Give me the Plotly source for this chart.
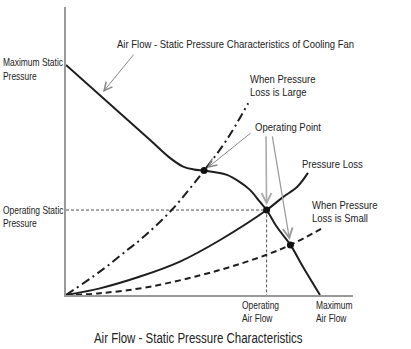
import plotly.graph_objects as go

# ---- data (arbitrary units: air flow 0-100, static pressure 0-100) ----
fan_flow = [0, 29.3, 36.2, 40.8, 44.5, 48.1, 52.0, 56.1, 60.6, 64.1, 67.6, 69.9, 73.5, 78.2, 82.6, 88.5]
fan_pressure = [79.9, 53.8, 47.6, 44.6, 43.6, 43.2, 42.6, 41.7, 39.2, 36.5, 32.3, 29.5, 23.6, 17.4, 9.7, 0]

loss_flow = [0, 11.8, 25.8, 39.7, 53.7, 69.9, 75.6, 80.5, 84.3]
loss_pressure = [0, 2.3, 6.4, 11.6, 19.1, 29.5, 34.0, 37.5, 42.4]

large_flow = [0, 11.8, 21.3, 25.8, 36.8, 48.1, 55.8, 63.5]
large_pressure = [0, 8.1, 15.6, 19.1, 29.5, 43.2, 53.6, 66.6]

small_flow = [0, 11.8, 29.3, 52.6, 69.7, 78.2, 89.5]
small_pressure = [0, 0.6, 2.9, 8.4, 13.9, 17.4, 23.3]

op_point = (69.9, 29.5)
large_point = (48.1, 43.2)
small_point = (78.2, 17.4)

FONT = "Liberation Sans, Arial, sans-serif"
DARK = "#1e1e1e"
W, H = 411, 349
ML, MR, MT, MB = 66, 58, 7, 54
PW, PH = W - ML - MR, H - MT - MB

fig = go.Figure()

# guide lines for operating point
fig.add_trace(go.Scatter(x=[0, op_point[0], op_point[0]], y=[op_point[1], op_point[1], 0],
                         mode="lines", line=dict(color="#555", width=1, dash="3px,2px"),
                         hoverinfo="skip"))
# pressure loss curves
fig.add_trace(go.Scatter(x=large_flow, y=large_pressure, mode="lines", line_shape="spline",
                         line=dict(color=DARK, width=2, dash="9px,4px,2px,4px"), hoverinfo="skip"))
fig.add_trace(go.Scatter(x=small_flow, y=small_pressure, mode="lines", line_shape="spline",
                         line=dict(color=DARK, width=2, dash="6px,4px"), hoverinfo="skip"))
fig.add_trace(go.Scatter(x=loss_flow, y=loss_pressure, mode="lines", line_shape="spline",
                         line=dict(color=DARK, width=2), hoverinfo="skip"))
# fan curve
fig.add_trace(go.Scatter(x=fan_flow, y=fan_pressure, mode="lines", line_shape="spline",
                         line=dict(color=DARK, width=2), hoverinfo="skip"))
# intersection points
fig.add_trace(go.Scatter(x=[large_point[0], op_point[0], small_point[0]],
                         y=[large_point[1], op_point[1], small_point[1]],
                         mode="markers", marker=dict(color="#111", size=7), hoverinfo="skip"))


def label(px, py, text, size, anchor="left"):
    # px, py: pixel position of the label in the figure -> paper fraction
    fig.add_annotation(x=(px - ML) / PW, y=(H - MB - py) / PH, xref="paper", yref="paper",
                       text=text, showarrow=False, xanchor=anchor, yanchor="middle",
                       align="left" if anchor == "left" else "center", borderpad=0,
                       font=dict(family=FONT, size=size, color="#222"))


AX = 10.3   # axis-side labels
IN = 11.6   # labels inside the chart
label(2, 63, "Maximum Static", AX)
label(2, 76, "Pressure", AX)
label(2, 210.5, "Operating Static", AX)
label(2, 223.5, "Pressure", AX)
label(241, 305, "Operating", AX)
label(241, 318, "Air Flow", AX)
label(315, 305, "Maximum", AX)
label(315, 318, "Air Flow", AX)
label(116, 43.5, "Air Flow - Static Pressure Characteristics of Cooling Fan", IN)
label(249, 78.3, "When Pressure", IN)
label(249, 91.6, "Loss is Large", IN)
label(254, 126, "Operating Point", IN)
label(301, 163, "Pressure Loss", IN)
label(311, 204.5, "When Pressure", IN)
label(311, 217.8, "Loss is Small", IN)
label(197.5, 337.5, "Air Flow - Static Pressure Characteristics", 14, anchor="center")


def arrow(tip, tail, color, width, standoff=0):
    fig.add_annotation(x=tip[0], y=tip[1], ax=tail[0], ay=tail[1], xref="x", yref="y",
                       axref="x", ayref="y", text="", showarrow=True, arrowhead=5,
                       arrowsize=1.6 if width < 1.3 else 1.2, arrowwidth=width,
                       arrowcolor=color, standoff=standoff)


arrow((12.9, 70.5), (24.0, 84.0), "#888", 1)
arrow(large_point, (64.8, 56.6), "#888", 1, standoff=4)
arrow(op_point, (69.7, 55.6), "#aaa", 1.6, standoff=5)
arrow(small_point, (71.8, 55.6), "#999", 1.2, standoff=5)

axis_common = dict(range=[0, 100], showgrid=False, zeroline=False, showticklabels=False,
                   ticks="", showline=True, linecolor="#999", linewidth=1.5, fixedrange=True)
fig.update_xaxes(**axis_common)
fig.update_yaxes(**axis_common)
fig.update_layout(width=W, height=H, margin=dict(l=ML, r=MR, t=MT, b=MB),
                  paper_bgcolor="white", plot_bgcolor="white", showlegend=False,
                  font=dict(family=FONT))

# condense the label glyphs horizontally (the original uses a condensed typeface)
post = """
document.querySelectorAll('text.annotation-text').forEach(function (t) {
  var mid = t.getAttribute('text-anchor') === 'middle';
  t.style.transformBox = 'fill-box';
  t.style.transformOrigin = mid ? 'center center' : 'left center';
  t.style.transform = 'scaleX(0.82)';
});
"""
fig.write_html("out.html", post_script=post)
